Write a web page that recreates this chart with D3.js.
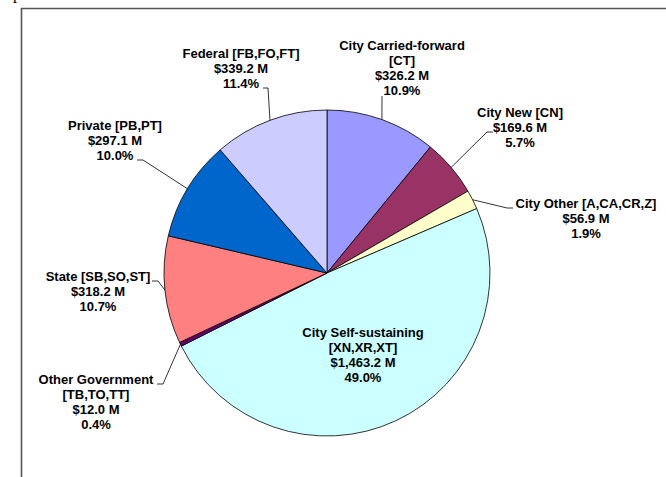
<!DOCTYPE html>
<html>
<head>
<meta charset="utf-8">
<script src="https://cdn.jsdelivr.net/npm/d3@7"></script>
<style>
  html, body { margin: 0; padding: 0; background: #fff; }
  svg { display: block; }
  .lbl { font-family: "Liberation Sans", Arial, sans-serif; font-weight: bold; font-size: 13px; fill: #000; }
</style>
</head>
<body>
<div id="chart"></div>
<script>
// slices, clockwise from 12 o'clock
const categories = [
  ["City Carried-forward", "[CT]"],
  ["City New [CN]"],
  ["City Other [A,CA,CR,Z]"],
  ["City Self-sustaining", "[XN,XR,XT]"],
  ["Other Government", "[TB,TO,TT]"],
  ["State [SB,SO,ST]"],
  ["Private [PB,PT]"],
  ["Federal [FB,FO,FT]"]
]
const values = [326.2, 169.6, 56.9, 1463.2, 12.0, 318.2, 297.1, 339.2]
const percents = [10.9, 5.7, 1.9, 49.0, 0.4, 10.7, 10.0, 11.4]
const colors = ["#9999FF", "#993366", "#FFFFCC", "#CCFFFF", "#660066", "#FF8080", "#0066CC", "#CCCCFF"]

// label placement: text centre x, first baseline y, and leader elbow (null = no leader)
const labelLayout = [
  { x: 402, y: 50, elbow: [382, 96], tick: 0 },
  { x: 520, y: 117, elbow: [487, 132], tick: 6 },
  { x: 586, y: 208, elbow: [507, 208], tick: 6 },
  { x: 363, y: 337, elbow: null },
  { x: 96, y: 384, elbow: [163, 384], tick: -6 },
  { x: 98, y: 281, elbow: [158, 281], tick: -6 },
  { x: 115, y: 130, elbow: [143, 160], tick: -6 },
  { x: 241, y: 58, elbow: [268, 88], tick: -5 }
]

const width = 666, height = 477
const cx = 327, cy = 273, radius = 163
const lineH = 15

const svg = d3.select("#chart").append("svg")
    .attr("width", width)
    .attr("height", height)

// frame of the chart area
svg.append("path")
    .attr("d", "M21.5," + height + "V8.5H" + width)
    .attr("fill", "none")
    .attr("stroke", "#555")
    .attr("stroke-width", 1.6)

// cut-off title glyph at the very top
svg.append("text")
    .attr("x", 13).attr("y", -1)
    .attr("font-family", "Liberation Serif, serif")
    .attr("font-size", 16)
    .text("p")

const pie = d3.pie().sort(null).value(d => d)
const arc = d3.arc().innerRadius(0).outerRadius(radius)
const edge = d3.arc().innerRadius(radius).outerRadius(radius)
const arcs = pie(values)

const g = svg.append("g").attr("transform", "translate(" + cx + "," + cy + ")")

g.selectAll("path.slice")
    .data(arcs)
    .enter()
    .append("path")
    .attr("class", "slice")
    .attr("d", arc)
    .attr("fill", (d, i) => colors[i])
    .attr("stroke", "#000")
    .attr("stroke-width", 0.8)
    .attr("stroke-linejoin", "round")

// leader lines
arcs.forEach((d, i) => {
    const lay = labelLayout[i]
    if (!lay.elbow) return
    const p = edge.centroid(d)
    const pts = [[p[0] + cx, p[1] + cy], lay.elbow]
    if (lay.tick) pts.push([lay.elbow[0] + lay.tick, lay.elbow[1]])
    svg.append("path")
        .attr("d", d3.line()(pts))
        .attr("fill", "none")
        .attr("stroke", "#000")
        .attr("stroke-width", 0.8)
})

// labels
arcs.forEach((d, i) => {
    const lay = labelLayout[i]
    const lines = categories[i].concat(["$" + d3.format(",.1f")(values[i]) + " M", percents[i].toFixed(1) + "%"])
    const t = svg.append("text")
        .attr("class", "lbl")
        .attr("text-anchor", "middle")
    lines.forEach((s, k) => {
        t.append("tspan")
            .attr("x", lay.x)
            .attr("y", lay.y + k * lineH)
            .text(s)
    })
})
</script>
</body>
</html>
